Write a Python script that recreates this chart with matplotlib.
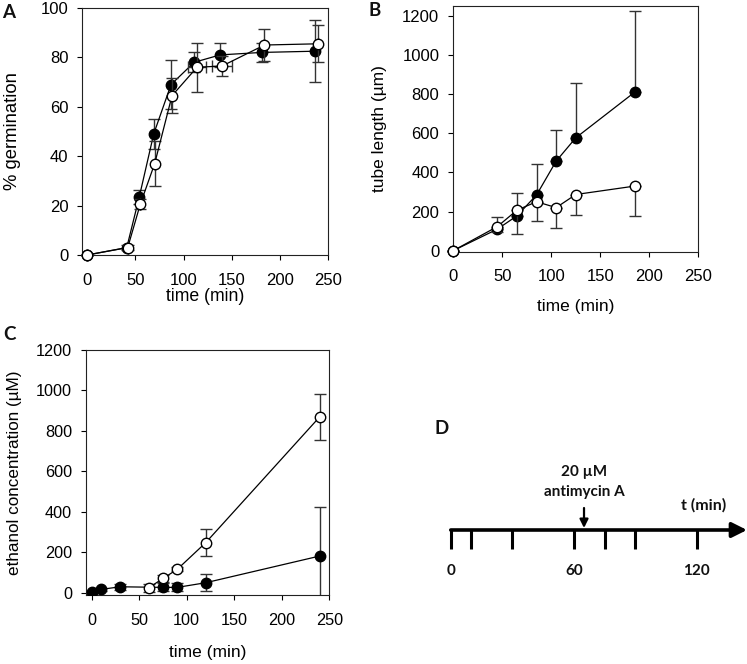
import numpy as np
import matplotlib.pyplot as plt

plt.rcParams['font.family'] = ['Liberation Sans', 'DejaVu Sans']

# panel A: % germination
a_t_fill = [0, 41, 54, 69, 87, 111, 138, 181, 237]
a_fill = [0, 3, 23.5, 49, 69, 78, 81, 82, 82.5]
a_fill_err = [0, 1, 3, 6, 10, 4, 5, 4, 12.5]
a_t_open = [0, 42, 55, 70, 88, 114, 140, 184, 240]
a_open = [0, 3, 20.5, 37, 64.5, 76, 76.5, 85, 85.5]
a_open_err = [0, 1, 2, 9, 7, 10, 4, 6.5, 7.5]
a_open_xerr = [0, 0, 0, 0, 0, 9, 10, 0, 0]

# panel B: tube length
b_t = [0, 45, 65, 85, 105, 125, 185]
b_fill = [0, 110, 178, 285, 458, 577, 810]
b_fill_up = [0, 60, 115, 160, 158, 278, 418]
b_open = [0, 123, 207, 250, 220, 287, 330]
b_open_dn = [0, 30, 122, 100, 105, 104, 152]

# panel C: ethanol concentration
c_t_fill = [0, 10, 30, 75, 90, 120, 240]
c_fill = [3, 17, 30, 27, 27, 50, 182]
c_fill_err = [5, 8, 15, 20, 20, 42, 240]
c_t_open = [60, 75, 90, 120, 240]
c_open = [25, 71, 116, 248, 870]
c_open_err = [20, 15, 10, 67, 114]

# panel D: sampling timeline
d_ticks = [0, 10, 30, 60, 75, 90, 120]
d_labels = [0, 60, 120]
d_inhibitor = 65

fig = plt.figure(figsize=(7.47, 6.64), dpi=100)
ax_a = fig.add_axes([0.1104, 0.616, 0.3287, 0.372])
ax_b = fig.add_axes([0.6068, 0.6205, 0.328, 0.371])
ax_c = fig.add_axes([0.1151, 0.1035, 0.3257, 0.3694])

ecol = '#333333'
kw_fill = dict(fmt='-o', color='black', mfc='black', mec='black', ms=7.5,
               lw=0.9, ecolor=ecol, elinewidth=1.0, capsize=4.5, capthick=1.0,
               clip_on=False)
kw_open = dict(fmt='-o', color='black', mfc='white', mec='black', ms=7.5,
               mew=1.0, lw=0.9, ecolor=ecol, elinewidth=1.0, capsize=4.5,
               capthick=1.0, clip_on=False)

ax_a.errorbar(a_t_fill, a_fill, yerr=a_fill_err, zorder=3, **kw_fill)
ax_a.errorbar(a_t_open, a_open, yerr=a_open_err, xerr=a_open_xerr, zorder=4, **kw_open)
ax_a.set_xlim(-5, 250)
ax_a.set_ylim(0, 100)
ax_a.set_xticks([0, 50, 100, 150, 200, 250])
ax_a.set_yticks([0, 20, 40, 60, 80, 100])
ax_a.set_xlabel('time (min)', fontsize=12.7)
ax_a.set_ylabel('% germination', fontsize=13.3)
ax_a.xaxis.set_label_coords(0.5, -0.135)
ax_a.yaxis.set_label_coords(-0.25, 0.5)

zero = [0] * len(b_t)
ax_b.errorbar(b_t, b_fill, yerr=[zero, b_fill_up], zorder=3, **kw_fill)
ax_b.errorbar(b_t, b_open, yerr=[b_open_dn, zero], zorder=4, **kw_open)
ax_b.set_xlim(0, 250)
ax_b.set_ylim(-7, 1253)
ax_b.set_xticks([0, 50, 100, 150, 200, 250])
ax_b.set_yticks([0, 200, 400, 600, 800, 1000, 1200])
ax_b.set_xlabel('time (min)', fontsize=12.5)
ax_b.set_ylabel('tube length (µm)', fontsize=12.5)
ax_b.xaxis.set_label_coords(0.5, -0.192)
ax_b.yaxis.set_label_coords(-0.272, 0.5)

ax_c.errorbar(c_t_fill, c_fill, yerr=c_fill_err, zorder=3,
              **{**kw_fill, 'clip_on': True})
ax_c.errorbar(c_t_open, c_open, yerr=c_open_err, zorder=4, **kw_open)
ax_c.set_xlim(-6, 250)
ax_c.set_ylim(-12, 1200)
ax_c.set_xticks([0, 50, 100, 150, 200, 250])
ax_c.set_yticks([0, 200, 400, 600, 800, 1000, 1200])
ax_c.set_xlabel('time (min)', fontsize=12.5)
ax_c.set_ylabel('ethanol concentration (µM)', fontsize=12.3)
ax_c.xaxis.set_label_coords(0.5, -0.203)
ax_c.yaxis.set_label_coords(-0.263, 0.5)

for ax, fs in [(ax_a, 12), (ax_b, 12), (ax_c, 11.7)]:
    ax.tick_params(direction='out', length=3.6, width=0.8, labelsize=fs,
                   top=False, right=False)
    ax.tick_params(axis='y', pad=6.5)
    ax.tick_params(axis='x', pad=9.5)
    for s in ax.spines.values():
        s.set_linewidth(0.8)
        s.set_color('#222222')
ax_b.tick_params(axis='x', pad=8.5)

# panel D drawn in minutes on an invisible axes
ax_d = fig.add_axes([420 / 747, 1 - 600 / 664, 327 / 747, 200 / 664])
ax_d.set_xlim(-15, 144.5)
ax_d.set_ylim(600, 400)
ax_d.axis('off')
line_y = 530
ax_d.annotate('', xy=(144.5, line_y), xytext=(0, line_y),
              arrowprops=dict(arrowstyle='-|>,head_length=0.9,head_width=0.45',
                              lw=2.6, color='black', shrinkA=0, shrinkB=0))
ax_d.vlines(d_ticks, line_y, line_y + 18.5, color='black', lw=2.2)
bold = dict(family=['Lato', 'DejaVu Sans'], fontweight='bold', color='#111111')
for v in d_labels:
    ax_d.text(v, 571, str(v), ha='center', va='center', fontsize=11, **bold)
ax_d.annotate('', xy=(d_inhibitor, line_y - 2), xytext=(d_inhibitor, 508),
              arrowprops=dict(arrowstyle='-|>,head_length=0.5,head_width=0.25',
                              lw=1.6, color='black', shrinkA=0, shrinkB=0))
ax_d.text(d_inhibitor, 472, '20 µM', ha='center', va='center', fontsize=11, **bold)
ax_d.text(d_inhibitor, 492, 'antimycin A', ha='center', va='center', fontsize=11, **bold)
ax_d.text(123.5, 505.5, 't (min)', ha='center', va='center', fontsize=11.5, **bold)

# panel letters
for lab, x, y in [('A', 9, 13), ('B', 375, 11), ('C', 9, 335), ('D', 442, 429)]:
    fig.text(x / 747, 1 - y / 664, lab, ha='center', va='center',
             fontsize=13.5, **bold)

fig.savefig('out.png', dpi=100)
